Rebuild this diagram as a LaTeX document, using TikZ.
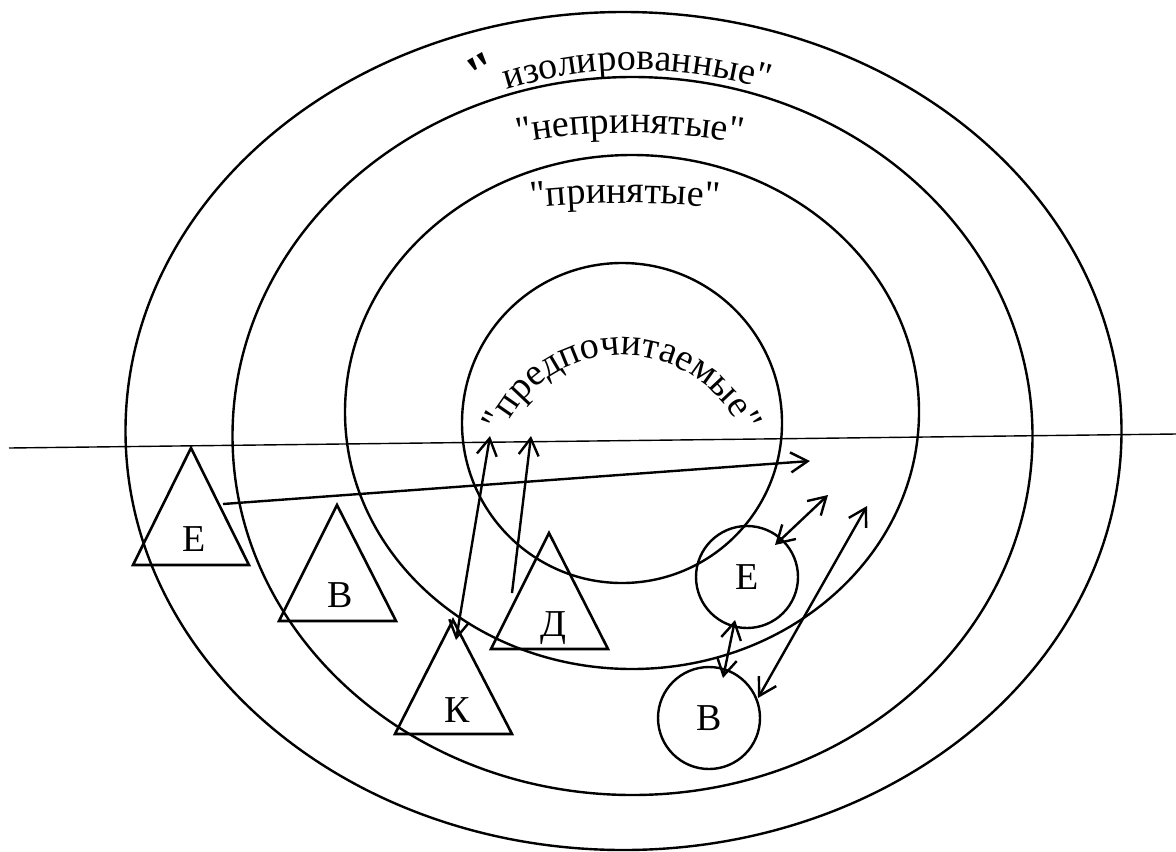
\documentclass[tikz,border=0pt]{standalone}
\usepackage{fontspec}
\setmainfont{Liberation Serif}[Ligatures=TeXOff]
\usetikzlibrary{arrows.meta,decorations.text,calc}
\newcommand\lblfont{\fontsize{19}{22}\selectfont}
\begin{document}
\begin{tikzpicture}[x=0.5pt,y=-0.5pt,
  ring/.style={line width=1.2pt},
  tri/.style={line width=1.3pt, line join=miter},
  lbl/.style={font=\lblfont, inner sep=0pt, anchor=base},
  circ/.style={draw, circle, line width=1.2pt, minimum size=51pt, inner sep=0pt, font=\lblfont},
  arr/.style={line width=1.2pt, >={Straight Barb[length=8.5pt,width=10pt]}},
  arctext/.style={decorate, decoration={text along path, text={#1}, text align=center}}
]
\fill[white] (0,0) rectangle (1176,851);
\useasboundingbox (0,0) rectangle (1176,851);

% rings
\draw[ring] (623.5,431) ellipse [x radius=498, y radius=419];
\draw[ring] (632.5,436) ellipse [x radius=400, y radius=359];
\draw[ring] (632,412) ellipse [x radius=287, y radius=257];
\draw[ring] (622,423) circle [radius=160];

% horizontal line
\coordinate (hl) at (9,448);
\coordinate (hr) at (1176,434);
\draw[line width=0.7pt] (hl) -- (hr);

% ring labels
\path[arctext={|\lblfont|изолированные"}] (637,510) ++(245:440) arc[start angle=245, end angle=295, radius=440];
\node[inner sep=0pt, font=\fontsize{26}{26}\selectfont\bfseries, rotate=30] (q) at (483,72) {"};
\path[arctext={|\lblfont|"непринятые"}] (630,733) ++(250:600) arc[start angle=250, end angle=290, radius=600];
\path[arctext={|\lblfont|"принятые"}] (625,1103) ++(255:900) arc[start angle=255, end angle=285, radius=900];
\path[arctext={|\lblfont|"предпочитаемые"}] (622,485) ++(200:130) arc[start angle=200, end angle=340, radius=130];

% triangles
\coordinate (E1) at (191,448); \coordinate (E2) at (133,565); \coordinate (E3) at (249,565);
\coordinate (B1) at (337,505); \coordinate (B2) at (279,621); \coordinate (B3) at (396,621);
\coordinate (K1) at (453,620); \coordinate (K2) at (395,734); \coordinate (K3) at (512,734);
\coordinate (D1) at (549,533); \coordinate (D2) at (491,649); \coordinate (D3) at (608,649);
\draw[tri] (E1) -- (E2) -- (E3) -- cycle;
\draw[tri] (B1) -- (B2) -- (B3) -- cycle;
\draw[tri] (K1) -- (K2) -- (K3) -- cycle;
\draw[tri] (D1) -- (D2) -- (D3) -- cycle;
\node[lbl] (tE) at (194,551) {Е};
\node[lbl] (tB) at (340,607) {В};
\node[lbl] (tK) at (457,722) {К};
\node[lbl] (tD) at (553,636) {Д};

% circles
\node[circ] (cE) at (747,577) {Е};
\node[circ] (cB) at (709,718) {В};

% arrow end points
\coordinate (a1s) at (223,504); \coordinate (a1e) at (810,461);
\coordinate (a2s) at (456,640); \coordinate (a2e) at (490,436);
\coordinate (a3s) at (512,593); \coordinate (a3e) at (531,436);
\coordinate (a4s) at ($(cE)+(28,-32)$); \coordinate (a4e) at (828,495);
\coordinate (a5s) at ($(cE)+(-12,43)$); \coordinate (a5e) at ($(cB)+(14,-40)$);
\coordinate (a6s) at ($(cB)+(49,-20)$); \coordinate (a6e) at (867,506);

\draw[arr,->] (a1s) -- (a1e);
\draw[arr,<->] (a2s) -- (a2e);
\draw[arr,->] (a3s) -- (a3e);
\draw[arr,<->] (a4s) -- (a4e);
\draw[arr,<->] (a5s) -- (a5e);
\draw[arr,<->] (a6s) -- (a6e);
\end{tikzpicture}
\end{document}
